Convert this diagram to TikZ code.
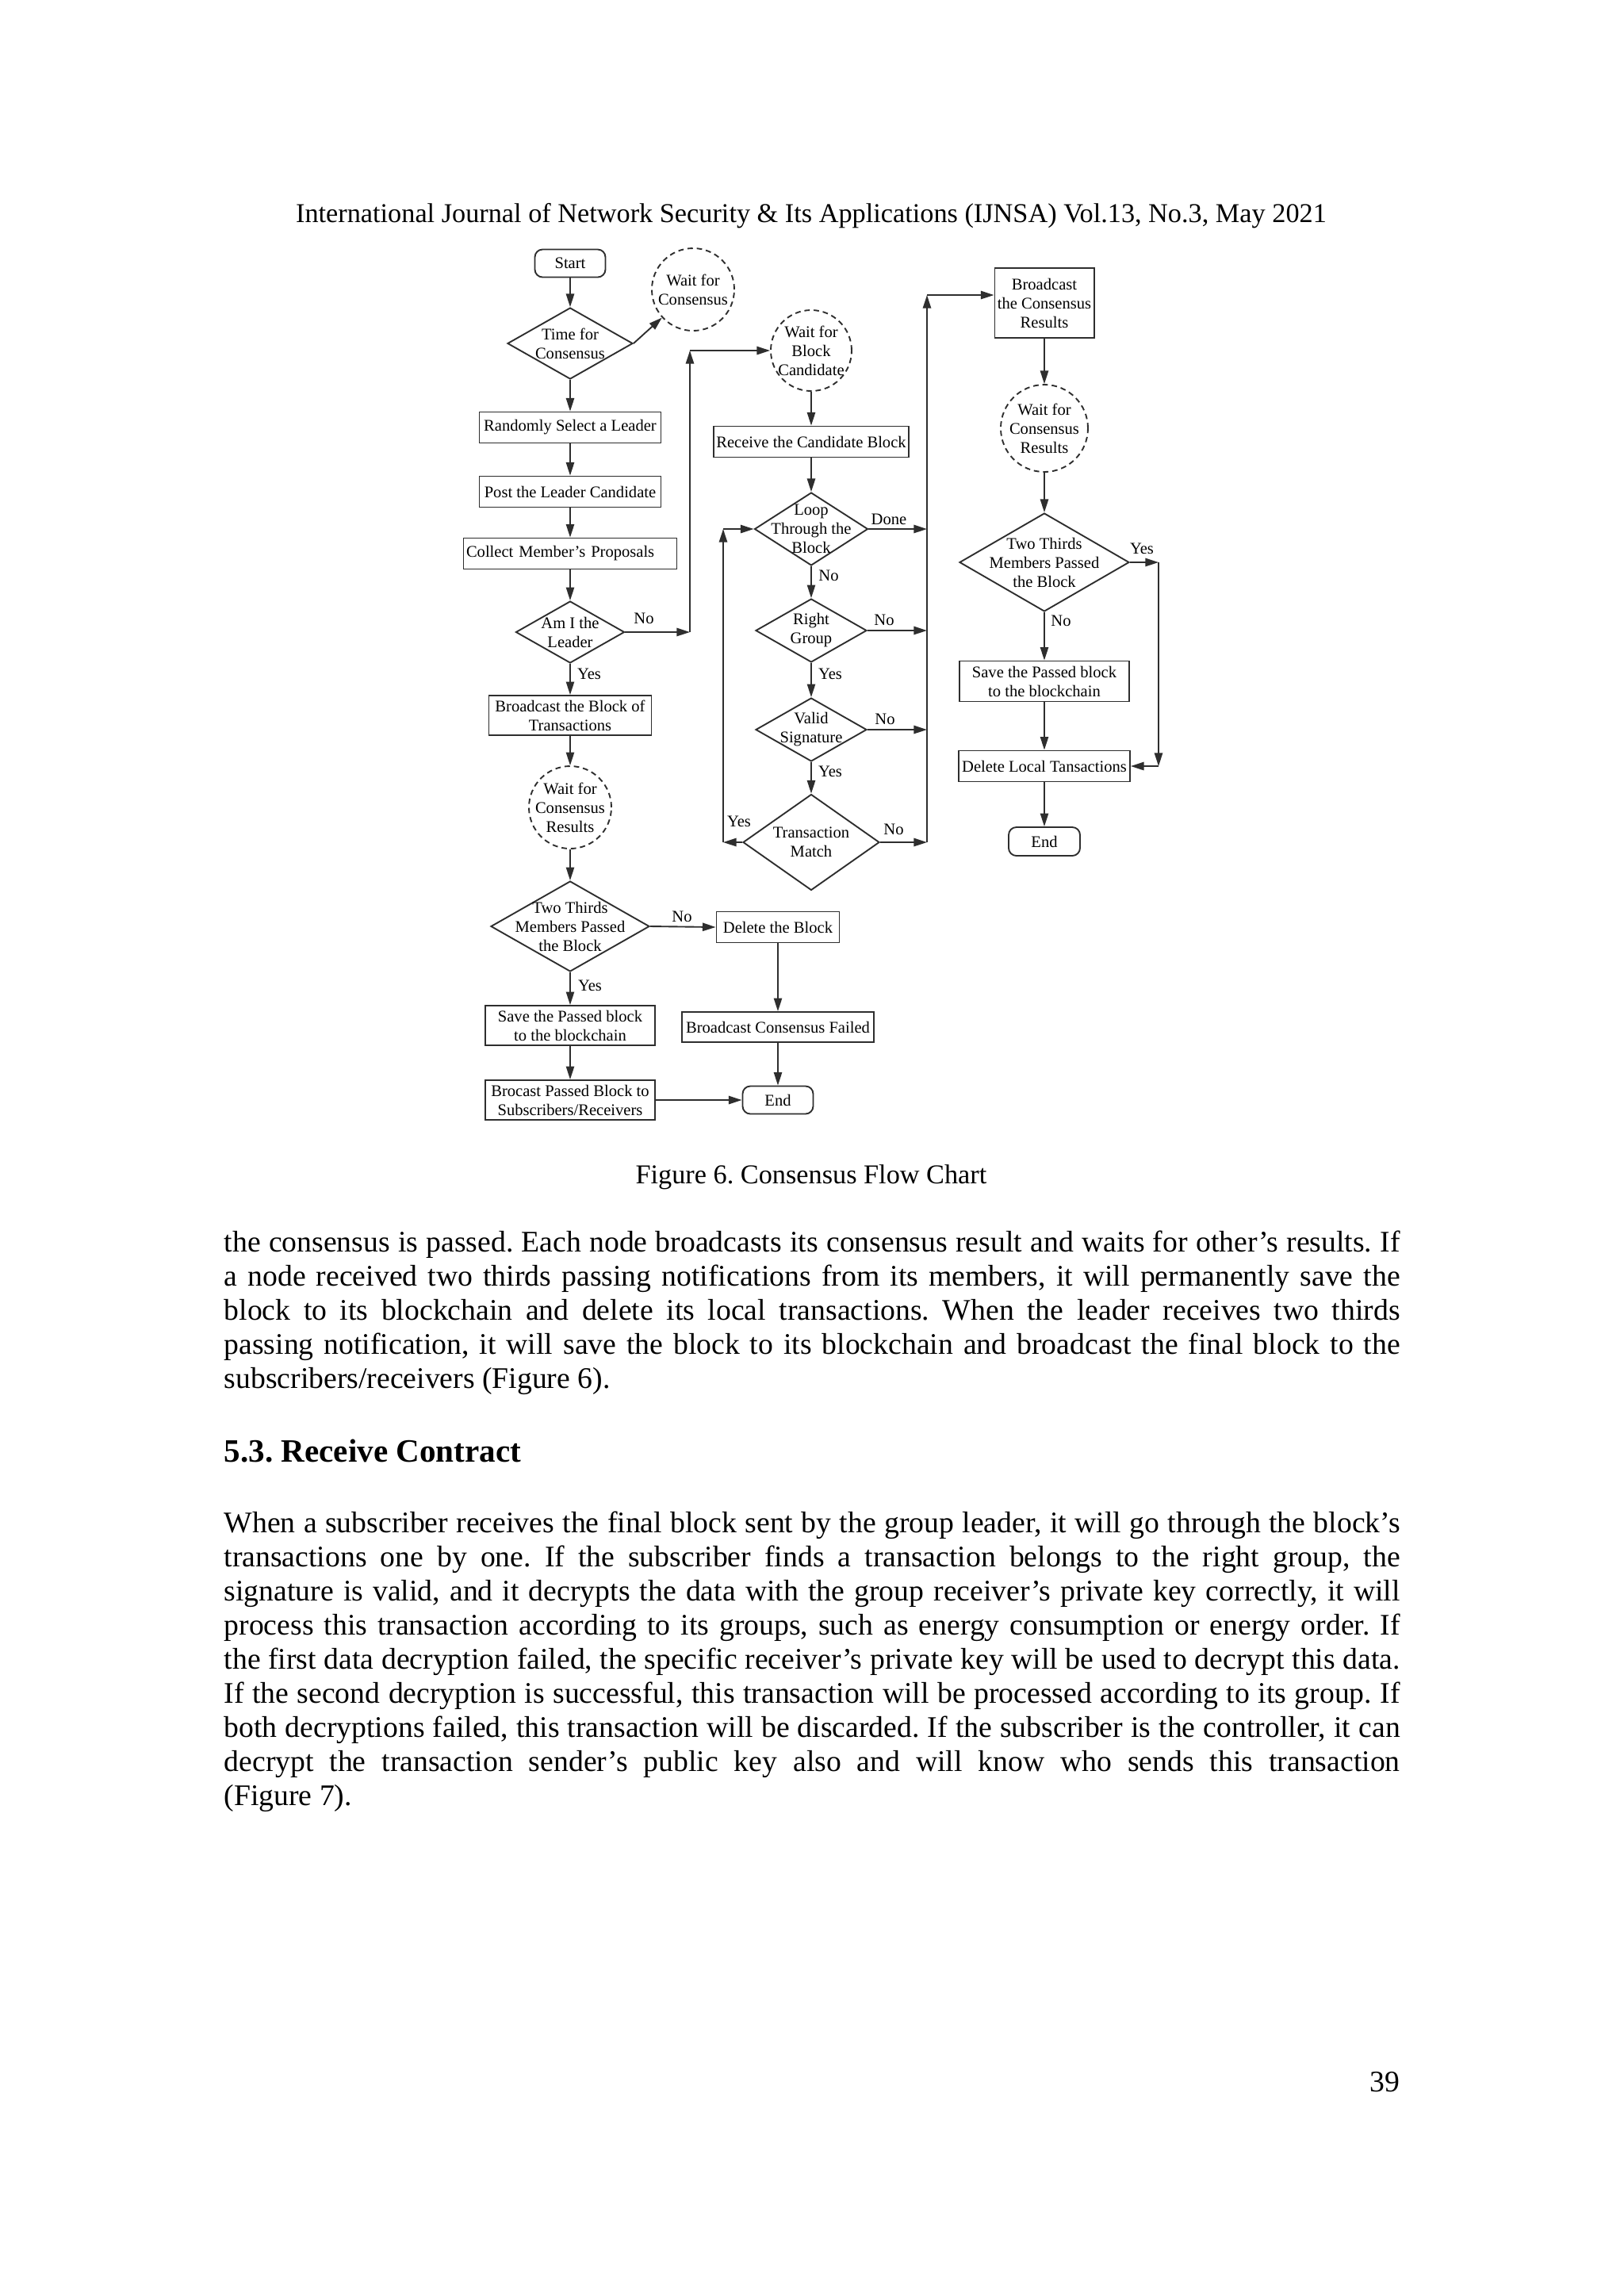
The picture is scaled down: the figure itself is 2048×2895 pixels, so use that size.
\documentclass[tikz,border=0pt]{standalone}
\usepackage{fontspec}
\setmainfont{Liberation Serif}
\usetikzlibrary{arrows.meta,shapes.geometric}
\definecolor{inkgray}{HTML}{2E2E2E}
\newdimen\pxu \pxu=0.10254mm
\tolerance=9999 \hbadness=10000 \hyphenpenalty=10000 \frenchspacing

\begin{document}
\begin{tikzpicture}[
  x=0.10254mm, y=-0.10254mm,
  >={Triangle[length=1.7mm,width=1.05mm]},
  flow/.style={draw=inkgray,line width=0.55pt,font=\fontsize{6}{7}\selectfont,align=center,inner sep=1pt},
  sz/.style 2 args={minimum width=#1\pxu,minimum height=#2\pxu},
  box/.style={flow,rectangle},
  term/.style={flow,rectangle,rounded corners=1mm},
  dec/.style n args={3}{flow,diamond,inner sep=0pt,sz={#1}{#2},label={center:#3}},
  waitc/.style 2 args={flow,circle,inner sep=0pt,dash pattern=on 0.7mm off 0.5mm,minimum size=#1\pxu,label={center:#2}},
  lbl/.style={font=\fontsize{6}{7}\selectfont,inner sep=0pt},
  link/.style={->,draw=inkgray,line width=0.55pt},
  every label/.style={font=\fontsize{6}{7}\selectfont,align=center,inner sep=0pt},
  body/.style={anchor=base west,inner sep=0pt,text width=1483\pxu,align=justify,font=\fontsize{11}{12.55}\selectfont},
]
\fill[white] (0,0) rectangle (2048,2895);
\useasboundingbox (0,0) rectangle (2048,2895);

% ---------- running head ----------
\node[anchor=base,inner sep=0pt,font=\fontsize{10}{12}\selectfont] (runhead) at (1023,280)
  {International Journal of Network Security \& Its Applications (IJNSA) Vol.13, No.3, May 2021};

% ---------- LEFT: leader election ----------
\node[term,sz={89}{35}] (start) at (719,332) {Start};
\node[waitc={104}{Wait for\\Consensus}] (waitcons) at (874,365) {};
\node[dec={158}{90}{Time for\\Consensus}] (timecons) at (719,433) {};
\node[box,sz={229}{39}] (select) at (719,539) {Randomly Select a Leader};
\node[box,sz={229}{39}] (post) at (719,620) {Post the Leader Candidate};
\node[box,sz={269}{39},text width=262\pxu,align=left] (collect) at (719,698) {Collect Member's Proposals};
\node[dec={137}{78}{Am I the\\Leader}] (amleader) at (719,797) {};
\node[box,sz={205}{50}] (bcastblock) at (719,902) {Broadcast the Block of\\Transactions};
\node[waitc={104}{Wait for\\Consensus\\Results}] (waitres1) at (719,1018) {};
\node[dec={200}{114}{Two Thirds\\Members Passed\\the Block}] (twothirds1) at (719,1168) {};
\node[box,sz={214}{50}] (save1) at (719,1293) {Save the Passed block\\to the blockchain};
\node[box,sz={214}{50}] (bcastpass) at (719,1387) {Brocast Passed Block to\\Subscribers/Receivers};
\node[box,sz={155}{39}] (delblock) at (981,1169) {Delete the Block};
\node[box,sz={242}{38}] (bcastfail) at (981,1295) {Broadcast Consensus Failed};
\node[term,sz={89}{35}] (end1) at (981,1387) {End};

\draw[link] (start) -- (timecons);
\draw[link] (timecons.east) -- (waitcons);
\draw[link] (timecons) -- (select);
\draw[link] (select) -- (post);
\draw[link] (post) -- (collect);
\draw[link] (collect) -- (amleader);
\draw[link] (amleader) -- (bcastblock);
\draw[link] (bcastblock) -- (waitres1);
\draw[link] (waitres1) -- (twothirds1);
\draw[link] (twothirds1) -- (save1);
\draw[link] (save1) -- (bcastpass);
\draw[link] (bcastpass.east) -- (end1.west);
\draw[link] (twothirds1.east) -- (delblock.west);
\draw[link] (delblock) -- (bcastfail);
\draw[link] (bcastfail) -- (end1);
\node[lbl] (yesLead) at (743,850) {Yes};
\node[lbl] (noLead) at (812,780) {No};
\node[lbl] (yesPass1) at (744,1243) {Yes};
\node[lbl] (noPass1) at (860,1156) {No};

% ---------- CENTER: checking the candidate block ----------
\node[waitc={102}{Wait for\\Block\\Candidate}] (waitblock) at (1023,442) {};
\node[box,sz={245}{39}] (receive) at (1023,557) {Receive the Candidate Block};
\node[dec={143}{92}{Loop\\Through the\\Block}] (loop) at (1023,667) {};
\node[dec={140}{80}{Right\\Group}] (rightgrp) at (1023,795) {};
\node[dec={140}{80}{Valid\\Signature}] (validsig) at (1023,920) {};
\node[dec={172}{121}{Transaction\\Match}] (txmatch) at (1023,1062) {};

% not the leader: wait for the candidate block
\coordinate (notlead) at (870,797);
\draw[link] (amleader.east) -- (notlead);
\draw[link] (notlead) -- (notlead |- waitblock.west);
\draw[link] (notlead |- waitblock.west) -- (waitblock.west);

\draw[link] (waitblock) -- (receive);
\draw[link] (receive) -- (loop);
\draw[link] (loop) -- (rightgrp);
\draw[link] (rightgrp) -- (validsig);
\draw[link] (validsig) -- (txmatch);
\node[lbl] (noLoop) at (1045,726) {No};
\node[lbl] (yesGrp) at (1047,850) {Yes};
\node[lbl] (yesSig) at (1047,973) {Yes};

% back to the loop
\coordinate (loopback) at (912,1062);
\draw[link] (txmatch.west) -- (loopback);
\draw[link] (loopback) -- (loopback |- loop.west);
\draw[link] (loopback |- loop.west) -- (loop.west);
\node[lbl] (yesTx) at (932,1036) {Yes};

% ---------- RIGHT: members save the block ----------
\node[box,sz={124}{88}] (bcastres) at (1317,382) {Broadcast\\the Consensus\\Results};
\node[waitc={110}{Wait for\\Consensus\\Results}] (waitres2) at (1317,540) {};
\node[dec={214}{124}{Two Thirds\\Members Passed\\the Block}] (twothirds2) at (1317,709) {};
\node[box,sz={214}{51}] (save2) at (1317,859) {Save the Passed block\\to the blockchain};
\node[box,sz={216}{39}] (dellocal) at (1317,966) {Delete Local Tansactions};
\node[term,sz={90}{36}] (end2) at (1317,1061) {End};

% results collected on the right rail
\coordinate (rbot) at (1169,1062);
\coordinate (rtop) at (1169,372);
\draw[link] (loop.east) -- (loop.east -| rbot);
\draw[link] (rightgrp.east) -- (rightgrp.east -| rbot);
\draw[link] (validsig.east) -- (validsig.east -| rbot);
\draw[link] (txmatch.east) -- (rbot);
\draw[link] (rbot) -- (rtop);
\draw[link] (rtop) -- (rtop -| bcastres.west);
\node[lbl] (done) at (1121,655) {Done};
\node[lbl] (noGrp) at (1115,782) {No};
\node[lbl] (noSig) at (1116,907) {No};
\node[lbl] (noTx) at (1127,1046) {No};

\draw[link] (bcastres) -- (waitres2);
\draw[link] (waitres2) -- (twothirds2);
\draw[link] (twothirds2) -- (save2);
\draw[link] (save2) -- (dellocal);
\draw[link] (dellocal) -- (end2);
\coordinate (yesdrop) at (1461,966);
\draw[link] (twothirds2.east) -- (twothirds2.east -| yesdrop);
\draw[link] (twothirds2.east -| yesdrop) -- (yesdrop);
\draw[link] (yesdrop) -- (dellocal.east);
\node[lbl] (yesPass2) at (1440,692) {Yes};
\node[lbl] (noPass2) at (1338,783) {No};

% ---------- caption and text ----------
\node[anchor=base,inner sep=0pt,font=\fontsize{10}{12}\selectfont] (caption) at (1023,1492)
  {Figure 6. Consensus Flow Chart};

\node[body] (para1) at (282,1578) {the consensus is passed. Each node broadcasts its consensus result and waits for other’s results. If\linebreak
a node received two thirds passing notifications from its members, it will permanently save the\linebreak
block to its blockchain and delete its local transactions. When the leader receives two thirds\linebreak
passing notification, it will save the block to its blockchain and broadcast the final block to the\linebreak
subscribers/receivers (Figure 6).};

\node[anchor=base west,inner sep=0pt,font=\fontsize{12}{14}\selectfont\bfseries] (sechead) at (282,1843)
  {5.3. Receive Contract};

\node[body] (para2) at (282,1932) {When a subscriber receives the final block sent by the group leader, it will go through the block’s\linebreak
transactions one by one. If the subscriber finds a transaction belongs to the right group, the\linebreak
signature is valid, and it decrypts the data with the group receiver’s private key correctly, it will\linebreak
process this transaction according to its groups, such as energy consumption or energy order. If\linebreak
the first data decryption failed, the specific receiver’s private key will be used to decrypt this data.\linebreak
If the second decryption is successful, this transaction will be processed according to its group. If\linebreak
both decryptions failed, this transaction will be discarded. If the subscriber is the controller, it can\linebreak
decrypt the transaction sender’s public key also and will know who sends this transaction\linebreak
(Figure 7).};

\node[anchor=base east,inner sep=0pt,font=\fontsize{11}{13}\selectfont] (pagenum) at (1766,2637) {39};

\end{tikzpicture}
\end{document}
